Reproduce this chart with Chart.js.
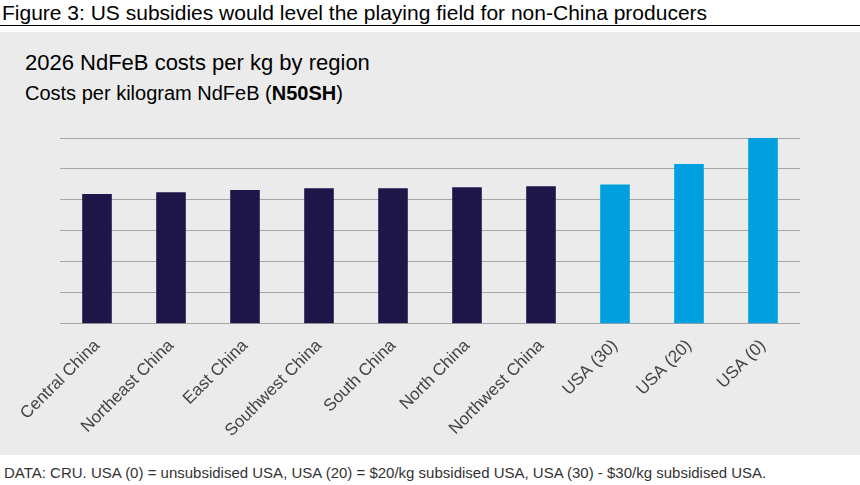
<!DOCTYPE html>
<html>
<head>
<meta charset="utf-8">
<script src="https://cdn.jsdelivr.net/npm/chart.js@4"></script>
<style>
  body { margin: 0; width: 860px; height: 485px; background: #fff; font-family: "Liberation Sans", Arial, sans-serif; position: relative; overflow: hidden; }
  #fig { position: absolute; left: 2px; top: 1px; font-size: 21px; color: #000; }
  #rule { position: absolute; left: 0; top: 25px; width: 860px; height: 1px; background: #000; }
  #panel { position: absolute; left: 0; top: 32px; width: 860px; height: 423px; background: #ebebeb; }
  #t1 { position: absolute; left: 25px; top: 50px; font-size: 22px; color: #000; }
  #t2 { position: absolute; left: 25px; top: 82px; font-size: 20px; color: #000; }
  #wrap { position: absolute; left: 0; top: 120px; width: 860px; height: 335px; }
  #note { position: absolute; left: 4px; top: 464px; font-size: 15px; color: #333; }
</style>
</head>
<body>
<div id="fig">Figure 3: US subsidies would level the playing field for non-China producers</div>
<div id="rule"></div>
<div id="panel"></div>
<div id="t1">2026 NdFeB costs per kg by region</div>
<div id="t2">Costs per kilogram NdFeB (<b>N50SH</b>)</div>
<div id="wrap"><canvas id="c"></canvas></div>
<div id="note">DATA: CRU. USA (0) = unsubsidised USA, USA (20) = $20/kg subsidised USA, USA (30) - $30/kg subsidised USA.</div>
<script>
const regions = ['Central China', 'Northeast China', 'East China', 'Southwest China', 'South China', 'North China', 'Northwest China', 'USA (30)', 'USA (20)', 'USA (0)'];
const costs = [4.19, 4.25, 4.32, 4.38, 4.38, 4.41, 4.44, 4.5, 5.16, 6.0];
const gridTicks = [0, 1, 2, 3, 4, 5, 6];

const colors = regions.map(r => r.startsWith('USA') ? '#009fdf' : '#1e1548');

new Chart(document.getElementById('c'), {
    type: 'bar',
    data: { labels: regions, datasets: [{ data: costs, backgroundColor: colors, barPercentage: 0.8, categoryPercentage: 0.5 }] },
    options: {
        responsive: true,
        maintainAspectRatio: false,
        animation: false,
        layout: { padding: { left: 60, right: 60, top: 18, bottom: 10 } },
        plugins: { legend: { display: false }, tooltip: { enabled: false } },
        scales: {
            x: {
                grid: { display: false },
                border: { display: false },
                ticks: { color: '#444', font: { family: 'Liberation Sans', size: 17 }, maxRotation: 45, minRotation: 45, padding: 4 }
            },
            y: {
                min: 0, max: 6,
                afterBuildTicks: s => { s.ticks = gridTicks.map(v => ({ value: v })); },
                ticks: { display: false },
                grid: { color: '#a6a6a6', drawTicks: false },
                border: { display: false }
            }
        }
    }
});
</script>
</body>
</html>
